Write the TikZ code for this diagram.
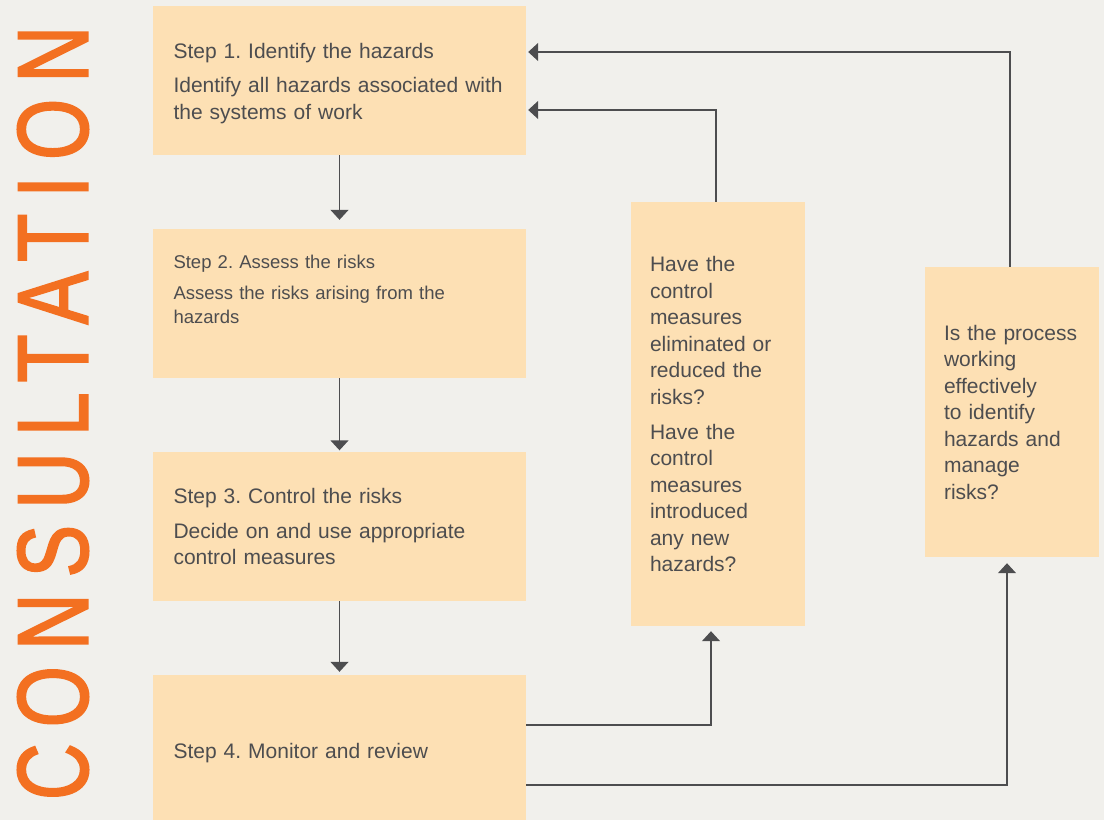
\documentclass[tikz,border=0pt]{standalone}
\usepackage{fontspec}
\setmainfont{Liberation Sans}
\newfontfamily\consfont[LetterSpace=20,FakeBold=2]{Liberation Sans}
\usepackage{graphicx}
\usetikzlibrary{arrows.meta,positioning,calc}
\frenchspacing
\hyphenpenalty=10000
\definecolor{bgGrey}{RGB}{241,240,236}
\definecolor{boxTan}{RGB}{253,224,180}
\definecolor{consOrange}{RGB}{243,112,33}
\definecolor{inkGrey}{RGB}{77,77,79}
\tikzset{
	stepbox/.style={
		fill=boxTan,
		align=left,
		inner xsep=20.5pt,
		inner ysep=0pt,
		text=inkGrey,
		font=\fontsize{21}{26.5}\selectfont,
		text width=332pt,
		minimum width=373pt,
		minimum height=149pt
	},
	qbox/.style={stepbox, inner xsep=19pt, text width=136pt, minimum width=174pt},
	farr/.style={-{Triangle[length=10pt,width=18pt]}, line width=1.4pt, inkGrey}
}

\begin{document}
\begin{tikzpicture}[x=1pt, y=-1pt]
		\fill[bgGrey] (0,0) rectangle (1104,820);
		\node[text=consOrange, rotate=90, inner sep=0pt] (cons) at (53,413) {\resizebox{774pt}{70pt}{\consfont CONSULTATION}};
		\node[stepbox] (s1) at (339.5,80.5) {\rule{0pt}{21pt}Step 1. Identify the hazards\\[8pt]Identify all hazards associated with\\the systems of work};
		\node[stepbox, font=\fontsize{18.5}{24}\selectfont] (s2) at (339.5,303.5) {Step 2. Assess the risks\\[7pt]Assess the risks arising from the\\hazards\rule[-28pt]{0pt}{0pt}};
		\node[stepbox] (s3) at (339.5,526.5) {Step 3. Control the risks\\[8pt]Decide on and use appropriate\\control measures};
		\node[stepbox, minimum height=145pt] (s4) at (339.5,747.5) {\rule{0pt}{27pt}Step 4. Monitor and review};
		\node[qbox, minimum height=424pt] (q1) at (718,414) {Have the\\control\\measures\\eliminated or\\reduced the\\risks?\\[8.5pt]Have the\\control\\measures\\introduced\\any new\\hazards?};
		\node[qbox, minimum height=290pt] (q2) at (1012,412) {Is the process\\working\\effectively\\to identify\\hazards and\\manage\\risks?};
		\draw[farr, shorten >=9pt] (s1) -- (s2);
		\draw[farr, shorten >=1.5pt] (s2) -- (s3);
		\draw[farr, shorten >=3pt] (s3) -- (s4);
		\draw[farr, shorten >=5pt] ([yshift=22.5pt]s4.east) -| ([xshift=-7pt]q1.south);
		\draw[farr, shorten >=6pt] ([yshift=-37.5pt]s4.east) -| ([xshift=-5pt]q2.south);
		\draw[farr, shorten >=2pt] ([xshift=-2pt]q1.north) |- ([yshift=-29.5pt]s1.east);
		\draw[farr, shorten >=2pt] ([xshift=-2pt]q2.north) |- ([yshift=28.5pt]s1.east);
	\end{tikzpicture}
\end{document}
